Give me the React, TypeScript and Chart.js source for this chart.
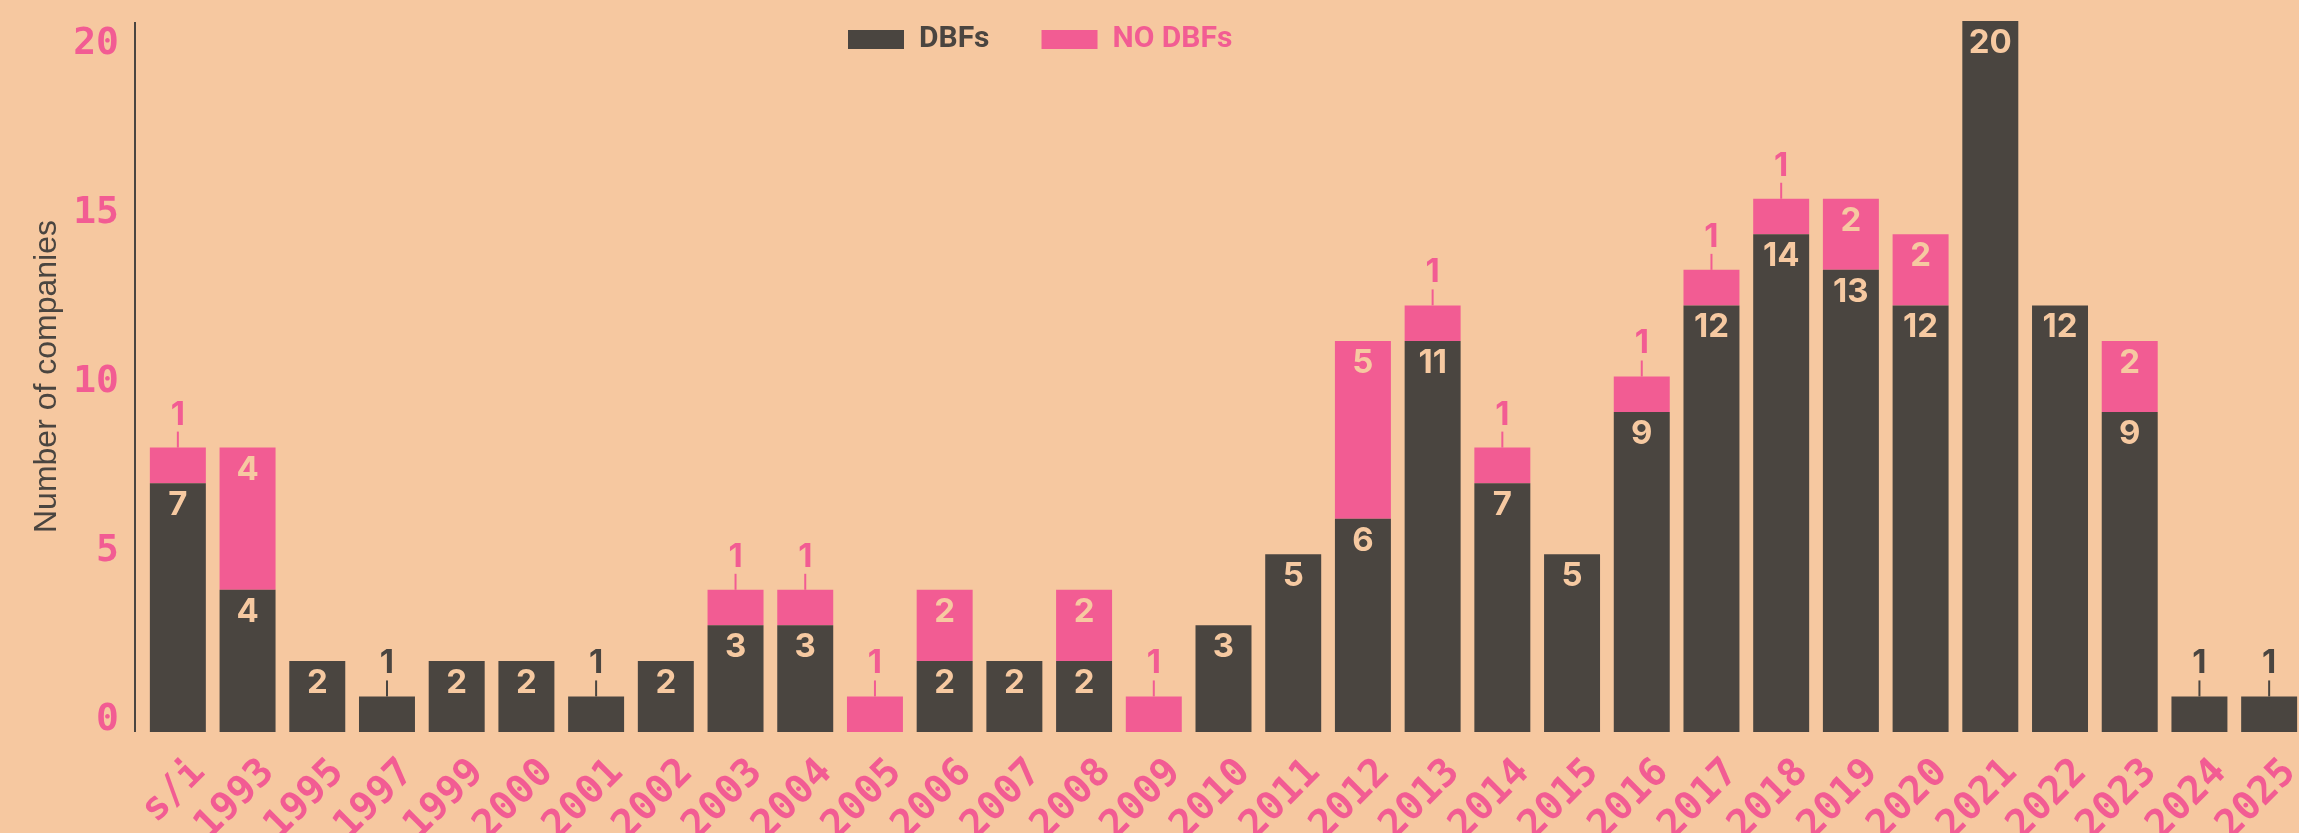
import React, { useEffect, useRef } from 'react';
import { Chart, registerables } from 'chart.js';

Chart.register(...registerables);

const categories = ['s/i', '1993', '1995', '1997', '1999', '2000', '2001', '2002', '2003', '2004', '2005', '2006', '2007', '2008', '2009', '2010', '2011', '2012', '2013', '2014', '2015', '2016', '2017', '2018', '2019', '2020', '2021', '2022', '2023', '2024', '2025'];
const dbfs = [7, 4, 2, 1, 2, 2, 1, 2, 3, 3, 0, 2, 2, 2, 0, 3, 5, 6, 11, 7, 5, 9, 12, 14, 13, 12, 20, 12, 9, 1, 1];
const noDbfs = [1, 4, 0, 0, 0, 0, 0, 0, 1, 1, 1, 2, 0, 2, 1, 0, 0, 5, 1, 1, 0, 1, 1, 1, 2, 2, 0, 0, 2, 0, 0];
const yTickValues = [0, 5, 10, 15, 20];

const BG = '#F6C8A0';
const LABEL_IN = '#F6C9A1';
const DARK = '#4A4540';
const PINK = '#F25C93';
const MONO = '"DejaVu Sans Mono", monospace';
const SANS = '"Liberation Sans", Arial, sans-serif';
const LABEL_FONT = 'Inter, "Liberation Sans", sans-serif';

export default function App() {
  const ref = useRef<HTMLCanvasElement>(null);

  useEffect(() => {
    const canvas = ref.current;
    if (!canvas) return;

    const bgPlugin = {
      id: 'bgFill',
      beforeDraw(chart: any) {
        const { ctx, width, height } = chart;
        ctx.save();
        ctx.fillStyle = BG;
        ctx.fillRect(0, 0, width, height);
        ctx.restore();
      },
    };

    const legendPatch = {
      id: 'legendPatch',
      beforeUpdate(chart: any) {
        const lg = chart.legend;
        if (lg && !lg.__patched) {
          const orig = lg.fit.bind(lg);
          lg.fit = function () {
            orig();
            this.height = 0;
          };
          lg.__patched = true;
        }
      },
      afterLayout(chart: any) {
        const lg = chart.legend;
        if (lg) {
          lg.top = -27.5;
          lg.bottom = 90;
          lg.height = lg.bottom - lg.top;
          lg.left = 796;
          lg.right = chart.width;
          lg.width = lg.right - lg.left;
        }
      },
    };

    const axisLine = {
      id: 'axisLine',
      beforeDatasetsDraw(chart: any) {
        const { ctx, chartArea } = chart;
        ctx.save();
        ctx.strokeStyle = DARK;
        ctx.lineWidth = 2;
        ctx.beginPath();
        ctx.moveTo(chartArea.left - 8, chartArea.top + 1);
        ctx.lineTo(chartArea.left - 8, chartArea.bottom);
        ctx.stroke();
        ctx.restore();
      },
    };

    const barLabels = {
      id: 'barLabels',
      afterDatasetsDraw(chart: any) {
        const ctx = chart.ctx;
        ctx.save();
        ctx.font = `bold 33px ${LABEL_FONT}`;
        ctx.textAlign = 'center';
        ctx.textBaseline = 'middle';
        chart.data.datasets.forEach((ds: any, d: number) => {
          const meta = chart.getDatasetMeta(d);
          const color = ds.backgroundColor as string;
          meta.data.forEach((el: any, i: number) => {
            const v = ds.data[i] as number;
            if (!v) return;
            const { x, y } = el.getProps(['x', 'y'], true);
            if (v >= 2) {
              ctx.fillStyle = LABEL_IN;
              ctx.fillText(String(v), x, y + 22);
            } else {
              ctx.strokeStyle = color;
              ctx.lineWidth = 2;
              ctx.beginPath();
              ctx.moveTo(x, y - 16);
              ctx.lineTo(x, y);
              ctx.stroke();
              ctx.fillStyle = color;
              ctx.fillText(String(v), x, y - 33);
            }
          });
        });
        ctx.restore();
      },
    };

    const chart = new Chart(canvas, {
      type: 'bar',
      data: {
        labels: categories,
        datasets: [
          {
            label: 'DBFs',
            data: dbfs,
            backgroundColor: DARK,
            borderWidth: 0,
            barPercentage: 0.803,
            categoryPercentage: 1,
          },
          {
            label: 'NO DBFs',
            data: noDbfs,
            backgroundColor: PINK,
            borderWidth: 0,
            barPercentage: 0.803,
            categoryPercentage: 1,
          },
        ],
      },
      options: {
        responsive: false,
        animation: false,
        devicePixelRatio: 1,
        layout: { padding: { top: 21, right: 2, left: 0, bottom: 0 } },
        plugins: {
          tooltip: { enabled: false },
          legend: {
            display: true,
            position: 'top',
            align: 'start',
            labels: {
              boxWidth: 56,
              boxHeight: 19,
              padding: 52,
              font: { family: 'Roboto', size: 30, weight: 'bold' },
              generateLabels(chart: any) {
                const items = (Chart.defaults.plugins.legend.labels as any).generateLabels(chart);
                return items.map((it: any, i: number) => ({
                  ...it,
                  fontColor: i === 0 ? DARK : PINK,
                  lineWidth: 0,
                }));
              },
            },
          },
        },
        scales: {
          x: {
            stacked: true,
            grid: { display: false, drawTicks: false },
            border: { display: false },
            ticks: {
              color: PINK,
              font: { family: MONO, size: 39, weight: 'bold' },
              minRotation: 45,
              maxRotation: 45,
              padding: 18,
              labelOffset: 21,
              autoSkip: false,
            },
            afterFit(s: any) {
              s.height = 101;
              s.paddingLeft = 0;
              s.paddingRight = 0;
            },
          },
          y: {
            stacked: true,
            min: 0,
            max: 20,
            display: false,
          },
          y2: {
            axis: 'y',
            type: 'linear',
            position: 'left',
            min: -0.3553,
            max: 20.696,
            grid: { display: false, drawTicks: false },
            border: { display: false },
            ticks: {
              color: PINK,
              font: { family: MONO, size: 38, weight: 'bold' },
              padding: 24,
            },
            afterBuildTicks(s: any) {
              s.ticks = yTickValues.map((v) => ({ value: v }));
            },
            title: {
              display: true,
              text: 'Number of companies',
              color: DARK,
              font: { family: SANS, size: 32 },
              padding: { top: 28, bottom: 0 },
            },
            afterFit(s: any) {
              s.width = 143;
              s.paddingTop = 0;
              s.paddingBottom = 0;
            },
          },
        },
      } as any,
      plugins: [bgPlugin, legendPatch, axisLine, barLabels],
    });

    return () => {
      chart.destroy();
    };
  }, []);

  return (
    <div
      style={{
        position: 'absolute',
        left: 0,
        top: 0,
        width: 2299,
        height: 833,
        overflow: 'hidden',
        background: BG,
      }}
    >
      <canvas ref={ref} width={2306} height={833} style={{ display: 'block' }} />
    </div>
  );
}
